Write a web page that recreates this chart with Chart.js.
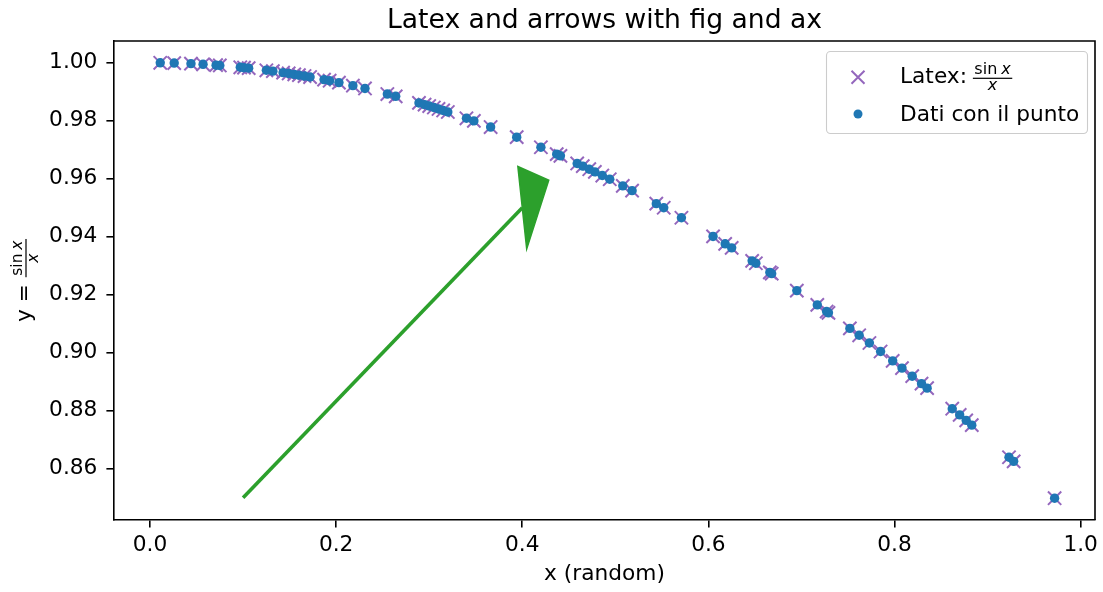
<!DOCTYPE html>
<html>
<head>
<meta charset="utf-8">
<script src="https://cdn.jsdelivr.net/npm/chart.js@4/dist/chart.umd.min.js"></script>
<style>
  html, body { margin: 0; padding: 0; background: #fff; }
  #wrap { width: 1103px; height: 592px; }
</style>
</head>
<body>
<div id="wrap"><canvas id="c" width="1103" height="592"></canvas></div>
<script>
// Sampled x positions and the matching sin(x)/x values
const xValues = [
  0.011, 0.026, 0.044, 0.057, 0.071, 0.075, 0.097, 0.101, 0.106, 0.125,
  0.132, 0.143, 0.149, 0.155, 0.160, 0.166, 0.172, 0.187, 0.193, 0.203,
  0.218, 0.231, 0.255, 0.264, 0.289, 0.295, 0.300, 0.305, 0.310, 0.315,
  0.320, 0.340, 0.348, 0.366, 0.394, 0.420, 0.437, 0.441, 0.459, 0.465,
  0.472, 0.478, 0.486, 0.494, 0.508, 0.518, 0.544, 0.552, 0.571, 0.605,
  0.618, 0.625, 0.647, 0.651, 0.666, 0.668, 0.695, 0.717, 0.727, 0.729,
  0.752, 0.762, 0.773, 0.785, 0.798, 0.808, 0.819, 0.829, 0.835, 0.862,
  0.870, 0.877, 0.883, 0.923, 0.928, 0.972
];
const yValues = [
  0.99998, 0.99989, 0.99968, 0.99946, 0.99916, 0.99906, 0.99843, 0.99830, 0.99813, 0.99740,
  0.99710, 0.99659, 0.99630, 0.99600, 0.99573, 0.99541, 0.99507, 0.99418, 0.99380, 0.99315,
  0.99210, 0.99113, 0.98920, 0.98842, 0.98614, 0.98556, 0.98507, 0.98457, 0.98406, 0.98354,
  0.98302, 0.98084, 0.97994, 0.97782, 0.97433, 0.97086, 0.96848, 0.96790, 0.96526, 0.96435,
  0.96328, 0.96235, 0.96110, 0.95982, 0.95754, 0.95588, 0.95141, 0.94999, 0.94654, 0.94010,
  0.93755, 0.93616, 0.93168, 0.93085, 0.92770, 0.92727, 0.92142, 0.91649, 0.91421, 0.91375,
  0.90838, 0.90600, 0.90335, 0.90041, 0.89719, 0.89469, 0.89190, 0.88933, 0.88778, 0.88068,
  0.87854, 0.87665, 0.87502, 0.86394, 0.86252, 0.84981
];

// Axis ticks
const xTicks = [0.0, 0.2, 0.4, 0.6, 0.8, 1.0];
const xTickLabels = ['0.0', '0.2', '0.4', '0.6', '0.8', '1.0'];
const yTicks = [0.86, 0.88, 0.90, 0.92, 0.94, 0.96, 0.98, 1.00];
const yTickLabels = ['0.86', '0.88', '0.90', '0.92', '0.94', '0.96', '0.98', '1.00'];

// Texts
const titleText = 'Latex and arrows with fig and ax';
const xAxisLabel = 'x (random)';
const yAxisLabelLead = 'y = ';
const latexSeriesLead = 'Latex: ';
const dotSeriesName = 'Dati con il punto';

// Arrow annotation, in data units: start point, delta, head size
const arrowStart = [0.1, 0.85];
const arrowDelta = [0.3, 0.1];
const arrowHeadWidth = 0.03;
const arrowHeadLength = 0.03;

const FONT = '"DejaVu Sans", "Liberation Sans", sans-serif';
const INK = '#000000';
const PURPLE = '#9467bd';
const BLUE = '#1f77b4';
const GREEN = '#2ca02c';

const points = xValues.map((x, i) => ({ x: x, y: yValues[i] }));

// Draws "sin x" over "x" starting at (x0, baseline); returns its width
function drawFraction(ctx, x0, baseline, size) {
  ctx.save();
  ctx.textAlign = 'left';
  ctx.textBaseline = 'alphabetic';
  ctx.fillStyle = INK;
  ctx.font = size + 'px ' + FONT;
  const wSin = ctx.measureText('sin').width;
  ctx.font = 'italic ' + size + 'px ' + FONT;
  const wX = ctx.measureText('x').width;
  const gap = size * 0.25;
  const pad = 1.5;
  const numW = wSin + gap + wX;
  const w = numW + 2 * pad;
  ctx.font = size + 'px ' + FONT;
  ctx.fillText('sin', x0 + pad, baseline - 9);
  ctx.font = 'italic ' + size + 'px ' + FONT;
  ctx.fillText('x', x0 + pad + wSin + gap, baseline - 9);
  ctx.fillText('x', x0 + w / 2 - wX / 2, baseline + 6.5);
  ctx.fillRect(x0, baseline - 5.6, w, 1.2);
  ctx.restore();
  return w;
}

const decorations = {
  id: 'decorations',
  beforeDatasetsDraw(chart) {
    const { ctx, scales } = chart;
    const sx = v => scales.x.getPixelForValue(v);
    const sy = v => scales.y.getPixelForValue(v);
    const [x0, y0] = arrowStart;
    const [dx, dy] = arrowDelta;
    const L = Math.hypot(dx, dy);
    const ux = dx / L, uy = dy / L;
    const nx = -uy, ny = ux;
    const bx = x0 + dx, by = y0 + dy;
    const tip = [bx + ux * arrowHeadLength, by + uy * arrowHeadLength];
    const c1 = [bx + nx * arrowHeadWidth / 2, by + ny * arrowHeadWidth / 2];
    const c2 = [bx - nx * arrowHeadWidth / 2, by - ny * arrowHeadWidth / 2];
    ctx.save();
    ctx.strokeStyle = GREEN;
    ctx.fillStyle = GREEN;
    ctx.lineWidth = 3.6;
    ctx.beginPath();
    ctx.moveTo(sx(x0), sy(y0));
    ctx.lineTo(sx(bx), sy(by));
    ctx.stroke();
    ctx.lineWidth = 1.5;
    ctx.lineJoin = 'miter';
    ctx.beginPath();
    ctx.moveTo(sx(c1[0]), sy(c1[1]));
    ctx.lineTo(sx(tip[0]), sy(tip[1]));
    ctx.lineTo(sx(c2[0]), sy(c2[1]));
    ctx.closePath();
    ctx.fill();
    ctx.stroke();
    ctx.restore();
  },
  afterDraw(chart) {
    const { ctx, chartArea: a } = chart;
    ctx.save();
    // top and right spines
    ctx.strokeStyle = INK;
    ctx.lineWidth = 1.6;
    ctx.beginPath();
    ctx.moveTo(a.left, a.top);
    ctx.lineTo(a.right, a.top);
    ctx.lineTo(a.right, a.bottom);
    ctx.stroke();

    // title
    ctx.fillStyle = INK;
    ctx.font = '26.6px ' + FONT;
    ctx.textAlign = 'center';
    ctx.textBaseline = 'alphabetic';
    ctx.fillText(titleText, (a.left + a.right) / 2, 28);

    // y axis label with fraction, rotated
    ctx.save();
    ctx.translate(31, (a.top + a.bottom) / 2);
    ctx.rotate(-Math.PI / 2);
    ctx.font = '21.7px ' + FONT;
    const wLead = ctx.measureText(yAxisLabelLead).width;
    ctx.font = '15.5px ' + FONT;
    const wSin = ctx.measureText('sin').width;
    ctx.font = 'italic 15.5px ' + FONT;
    const wFrac = wSin + 15.5 * 0.25 + ctx.measureText('x').width + 3;
    const start = -(wLead + wFrac) / 2;
    ctx.font = '21.7px ' + FONT;
    ctx.textAlign = 'left';
    ctx.fillText(yAxisLabelLead, start, 0);
    drawFraction(ctx, start + wLead, 0, 15.5);
    ctx.restore();

    // legend frame
    const lx = 826.5, ly = 51.5, lw = 261, lh = 82;
    ctx.fillStyle = 'rgba(255,255,255,0.8)';
    ctx.strokeStyle = '#cccccc';
    ctx.lineWidth = 1.1;
    ctx.beginPath();
    ctx.roundRect(lx, ly, lw, lh, 4);
    ctx.fill();
    ctx.stroke();

    // legend markers
    const mx = 858;
    ctx.strokeStyle = PURPLE;
    ctx.lineWidth = 2;
    ctx.beginPath();
    ctx.moveTo(mx - 6.5, 77.3 - 6.5); ctx.lineTo(mx + 6.5, 77.3 + 6.5);
    ctx.moveTo(mx + 6.5, 77.3 - 6.5); ctx.lineTo(mx - 6.5, 77.3 + 6.5);
    ctx.stroke();
    ctx.fillStyle = BLUE;
    ctx.beginPath();
    ctx.arc(mx, 114, 4.5, 0, Math.PI * 2);
    ctx.fill();

    // legend texts
    ctx.fillStyle = INK;
    ctx.font = '21.7px ' + FONT;
    ctx.textAlign = 'left';
    ctx.textBaseline = 'alphabetic';
    ctx.fillText(latexSeriesLead, 900, 83.3);
    const wl = ctx.measureText(latexSeriesLead).width;
    drawFraction(ctx, 900 + wl - 1, 83.3, 16);
    ctx.font = '21.7px ' + FONT;
    ctx.fillText(dotSeriesName, 900, 121);
    ctx.restore();
  }
};

const tickFont = { family: FONT, size: 21.7 };

new Chart(document.getElementById('c').getContext('2d'), {
  type: 'scatter',
  data: {
    datasets: [
      {
        label: dotSeriesName,
        data: points,
        pointStyle: 'circle',
        pointRadius: 4.7,
        pointHoverRadius: 4.7,
        pointBackgroundColor: BLUE,
        pointBorderColor: BLUE,
        pointBorderWidth: 0,
        order: 0
      },
      {
        label: 'Latex',
        data: points,
        pointStyle: 'crossRot',
        pointRadius: 9.4,
        pointHoverRadius: 9.4,
        pointBackgroundColor: PURPLE,
        pointBorderColor: PURPLE,
        pointBorderWidth: 2,
        order: 1
      }
    ]
  },
  options: {
    responsive: false,
    animation: false,
    devicePixelRatio: 1,
    events: [],
    layout: { autoPadding: false, padding: { top: 41, right: 8, left: 0, bottom: 0 } },
    plugins: {
      legend: { display: false },
      tooltip: { enabled: false },
      title: { display: false }
    },
    scales: {
      x: {
        type: 'linear',
        min: -0.0387,
        max: 1.0154,
        afterBuildTicks: s => { s.ticks = xTicks.map(v => ({ value: v })); },
        afterFit: s => { s.height = 72; s.paddingLeft = 0; s.paddingRight = 0; },
        ticks: {
          font: tickFont,
          color: INK,
          padding: 5,
          maxRotation: 0,
          autoSkip: false,
          callback: (v, i) => xTickLabels[i]
        },
        grid: { drawOnChartArea: false, color: INK, lineWidth: 1.6, tickLength: 7.6 },
        border: { color: INK, width: 1.6 },
        title: { display: true, text: xAxisLabel, font: tickFont, color: INK, padding: { top: 0, bottom: 5 } }
      },
      y: {
        type: 'linear',
        min: 0.8423,
        max: 1.0075,
        afterBuildTicks: s => { s.ticks = yTicks.map(v => ({ value: v })); },
        afterFit: s => { s.width = 114; s.paddingTop = 0; s.paddingBottom = 0; },
        ticks: {
          font: tickFont,
          color: INK,
          padding: 9,
          autoSkip: false,
          callback: (v, i) => yTickLabels[i]
        },
        grid: { drawOnChartArea: false, color: INK, lineWidth: 1.6, tickLength: 7.6 },
        border: { color: INK, width: 1.6 }
      }
    }
  },
  plugins: [decorations]
});
</script>
</body>
</html>
